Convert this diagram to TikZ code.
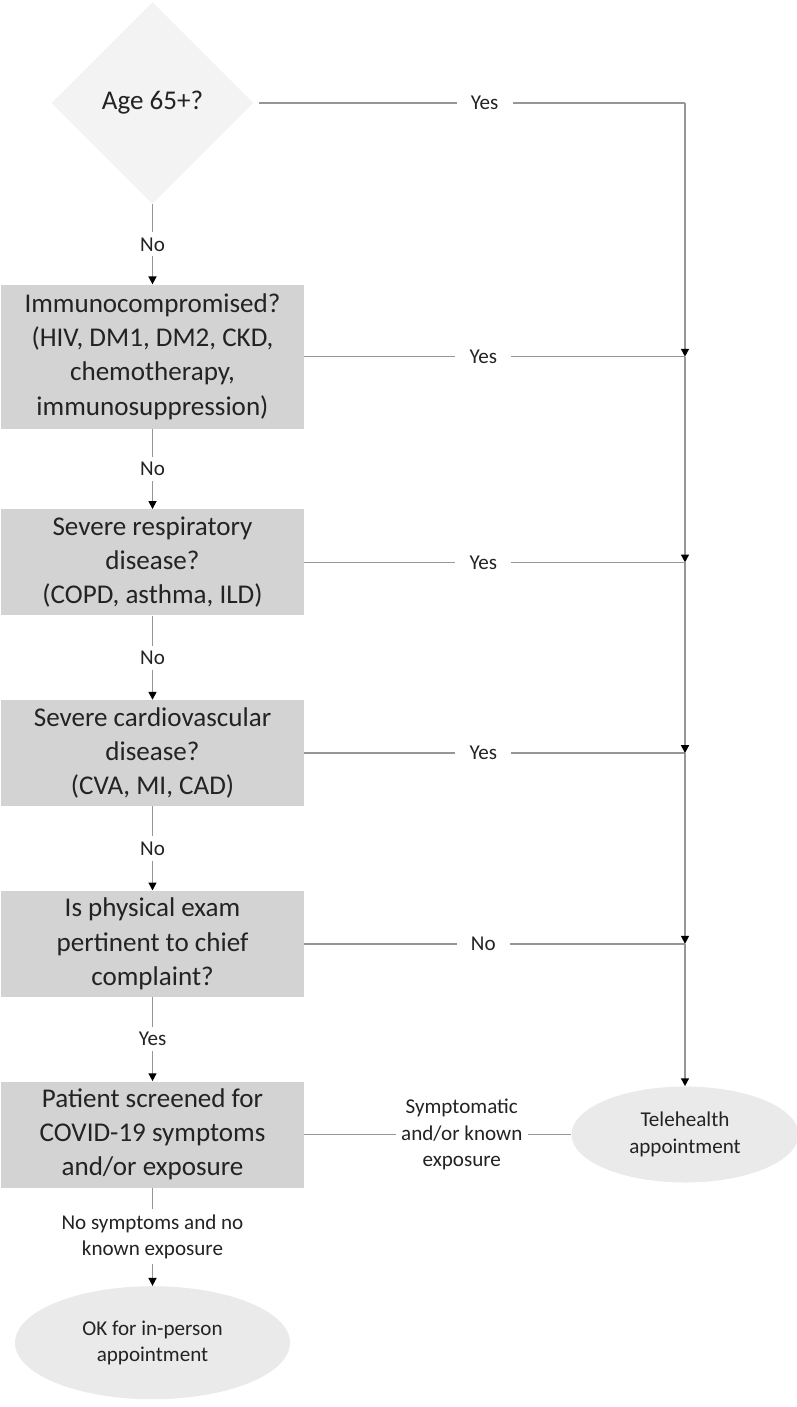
\documentclass[tikz,border=0pt]{standalone}
\usepackage{fontspec}
\setmainfont{Carlito}
\usepackage{tikz}
\usetikzlibrary{shapes.geometric,arrows.meta,positioning}
\definecolor{myline}{RGB}{150,150,150}
\definecolor{mybox}{RGB}{211,211,211}
\definecolor{myoval}{RGB}{234,234,234}
\definecolor{mydiam}{RGB}{243,243,243}
\definecolor{mytext}{RGB}{35,35,35}

\begin{document}
\begin{tikzpicture}[
    box/.style={fill=mybox, minimum width=6.06cm, minimum height=2.12cm,
                align=center, text=mytext, inner sep=0pt,
                font=\fontsize{15.4}{19.4}\selectfont},
    decision/.style={diamond, fill=mydiam, minimum width=4.04cm,
                     minimum height=4.04cm, inner sep=0pt, text=mytext,
                     font=\fontsize{15.4}{19.4}\selectfont},
    oval/.style={ellipse, fill=myoval, align=center, text=mytext,
                 inner sep=0pt, font=\fontsize{12}{15}\selectfont},
    lbl/.style={fill=white, align=center, text=mytext, inner xsep=8pt,
                inner ysep=3pt, font=\fontsize{12}{15}\selectfont},
    flow/.style={draw=myline, line width=0.9pt},
    arr/.style={flow, -{Triangle[length=4.5pt,width=4.5pt,color=black]}}
  ]
  \useasboundingbox (0,0) rectangle (15.94,-28.14);

  % Question chain
  \node[decision] (age) at (3.05,-2.06) {Age 65+?};
  \node[box, minimum height=2.88cm, below=1.6cm of age] (immuno)
    {Immunocompromised?\\(HIV, DM1, DM2, CKD,\\chemotherapy,\\immunosuppression)};
  \node[box, below=1.6cm of immuno] (resp)
    {Severe respiratory\\disease?\\(COPD, asthma, ILD)};
  \node[box, below=1.68cm of resp] (cardio)
    {Severe cardiovascular\\disease?\\(CVA, MI, CAD)};
  \node[box, below=1.68cm of cardio] (exam)
    {Is physical exam\\pertinent to chief\\complaint?};
  \node[box, below=1.68cm of exam] (screen)
    {Patient screened for\\COVID-19 symptoms\\and/or exposure};

  % Outcomes
  \node[oval, minimum width=5.5cm, minimum height=2.26cm, below=1.96cm of screen] (inperson)
    {OK for in-person\\appointment};
  \node[oval, minimum width=4.54cm, minimum height=1.92cm] (tele) at (13.7,-22.6 |- screen)
    {Telehealth\\appointment};

  % Trunk on the right
  \coordinate (j0) at (13.7,-2.06);
  \coordinate (j1) at (j0 |- immuno);
  \coordinate (j2) at (j0 |- resp);
  \coordinate (j3) at (j0 |- cardio);
  \coordinate (j4) at (j0 |- exam);

  % Down the chain
  \draw[arr] (age) -- node[lbl]{No} (immuno);
  \draw[arr] (immuno) -- node[lbl]{No} (resp);
  \draw[arr] (resp) -- node[lbl]{No} (cardio);
  \draw[arr] (cardio) -- node[lbl]{No} (exam);
  \draw[arr] (exam) -- node[lbl]{Yes} (screen);
  \draw[arr] (screen) -- node[lbl]{No symptoms and no\\known exposure} (inperson);

  % Across to the trunk
  \draw[flow] (age.east) ++(0.1,0) -- node[lbl, pos=0.53]{Yes} (j0);
  \draw[flow] (immuno) -- node[lbl, pos=0.47]{Yes} (j1);
  \draw[flow] (resp) -- node[lbl, pos=0.47]{Yes} (j2);
  \draw[flow] (cardio) -- node[lbl, pos=0.47]{Yes} (j3);
  \draw[flow] (exam) -- node[lbl, pos=0.47]{No} (j4);
  \draw[flow] (screen) -- node[lbl, inner xsep=3pt, pos=0.59]{Symptomatic\\and/or known\\exposure} (tele);

  \draw[arr] (j0) -- (j1);
  \draw[arr] (j1) -- (j2);
  \draw[arr] (j2) -- (j3);
  \draw[arr] (j3) -- (j4);
  \draw[arr] (j4) -- (tele);
\end{tikzpicture}
\end{document}
